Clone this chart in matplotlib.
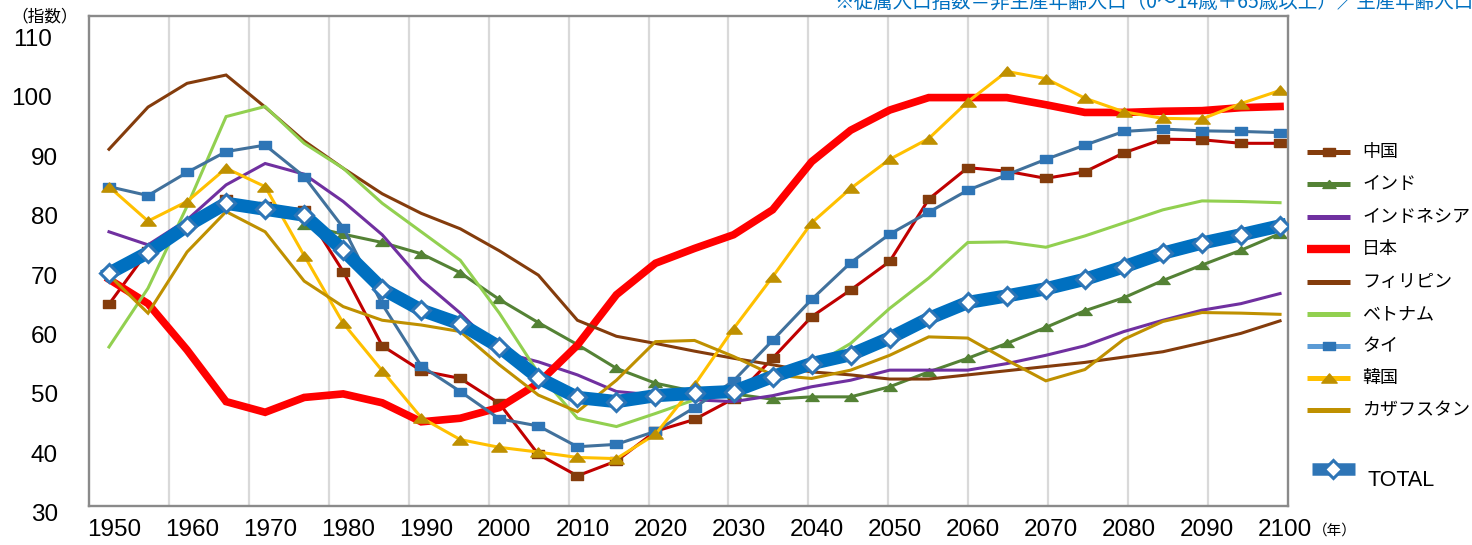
import numpy as np
import matplotlib
matplotlib.use("Agg")
import matplotlib.pyplot as plt
from matplotlib.path import Path
from matplotlib.lines import Line2D
from matplotlib.transforms import blended_transform_factory, offset_copy

nan = np.nan

# ---- data: dependency ratio index, every 5 years 1950-2100 ----
years = list(range(1950, 2101, 5))

china = [65.5, 74.5, 78.7, 83.3, 82.0, 81.4, 71.0, 58.5, 54.3, 53.0, 48.8, 40.2, 36.6, 39.1, 44.1, 46.1,
         49.6, 56.4, 63.4, 67.9, 72.7, 83.2, 88.5, 87.9, 86.7, 87.8, 91.0, 93.3, 93.2, 92.6, 92.6]
india = [nan, nan, nan, nan, nan, 78.8, 77.3, 75.9, 74.0, 70.8, 66.3, 62.4, 58.7, 54.7, 52.2, 50.8,
         50.4, 49.5, 49.9, 49.9, 51.6, 54.1, 56.4, 58.9, 61.6, 64.4, 66.6, 69.5, 72.1, 74.6, 77.4]
indonesia = [77.7, 75.5, 79.7, 85.6, 89.2, 87.4, 82.8, 77.2, 69.6, 64.0, 57.5, 55.8, 53.6, 50.8, 50.2, 49.4,
             49.1, 50.1, 51.6, 52.7, 54.4, 54.4, 54.4, 55.5, 56.9, 58.5, 60.9, 62.8, 64.5, 65.6, 67.3]
japan = [69.7, 65.6, 57.8, 49.1, 47.3, 49.8, 50.4, 48.9, 45.7, 46.3, 48.1, 52.2, 58.6, 67.1, 72.4, 74.9,
         77.2, 81.4, 89.5, 94.8, 98.2, 100.3, 100.3, 100.3, 99.1, 97.8, 97.8, 98.0, 98.1, 98.6, 98.8]
philippines = [91.6, 98.7, 102.7, 104.1, 98.7, 93.0, 88.4, 84.1, 80.8, 78.2, 74.5, 70.4, 62.8, 60.1, 58.9, 57.6,
               56.4, 55.3, 54.1, 53.6, 52.9, 52.9, 53.6, 54.3, 55.0, 55.7, 56.6, 57.5, 59.0, 60.6, 62.7]
vietnam = [58.3, 68.2, 82.0, 97.1, 98.8, 92.6, 88.4, 82.5, 77.7, 72.9, 64.0, 53.9, 46.3, 44.9, 47.1, 49.4,
           51.1, 52.5, 55.0, 58.9, 64.8, 69.9, 75.9, 76.0, 75.1, 77.0, 79.2, 81.4, 82.9, 82.8, 82.6]
thailand = [85.3, 83.8, 87.7, 91.2, 92.3, 87.0, 78.4, 65.5, 55.1, 50.8, 46.2, 45.0, 41.5, 41.9, 44.1, 48.1,
            52.6, 59.4, 66.3, 72.5, 77.3, 81.0, 84.7, 87.3, 89.9, 92.3, 94.6, 95.0, 94.7, 94.6, 94.4]
korea = [85.3, 79.5, 82.8, 88.4, 85.3, 73.7, 62.3, 54.3, 46.4, 42.7, 41.4, 40.6, 39.7, 39.5, 43.6, 51.9,
         61.4, 70.1, 79.2, 85.0, 89.9, 93.4, 99.6, 104.7, 103.5, 100.2, 97.9, 96.8, 96.7, 99.3, 101.5]
kazakhstan = [70.4, 64.0, 74.3, 81.1, 77.7, 69.4, 65.1, 62.8, 62.0, 60.9, 55.3, 50.2, 47.4, 52.7, 59.2, 59.4,
              56.7, 53.6, 53.0, 54.4, 56.9, 60.0, 59.8, 56.1, 52.6, 54.5, 59.6, 62.6, 64.1, 64.0, 63.8]
total = [70.7, 74.2, 78.7, 82.5, 81.5, 80.5, 74.6, 68.1, 64.5, 62.2, 58.3, 53.1, 49.8, 49.1, 50.1, 50.5,
         50.8, 53.3, 55.5, 57.0, 59.8, 63.1, 65.8, 66.9, 68.1, 69.7, 71.8, 74.1, 75.8, 77.2, 78.7]

series_names = ["中国", "インド", "インドネシア", "日本", "フィリピン", "ベトナム", "タイ", "韓国", "カザフスタン"]
series_values = [china, india, indonesia, japan, philippines, vietnam, thailand, korea, kazakhstan]
y_tick_values = [30, 40, 50, 60, 70, 80, 90, 100, 110]
x_tick_years = list(range(1950, 2101, 10))
note_text = "※従属人口指数＝非生産年齢人口（0～14歳＋65歳以上）／生産年齢人口"

# ---- marker shapes (flattened, as in spreadsheet charts) ----
rect_marker = Path([(-1, -0.7), (1, -0.7), (1, 0.7), (-1, 0.7), (-1, -0.7)],
                   [Path.MOVETO, Path.LINETO, Path.LINETO, Path.LINETO, Path.CLOSEPOLY])
tri_marker = Path([(-1, -0.6), (1, -0.6), (0, 0.6), (-1, -0.6)],
                  [Path.MOVETO, Path.LINETO, Path.LINETO, Path.CLOSEPOLY])

styles = [
    dict(color="#C00000", lw=2.2, marker=rect_marker, ms=9.2, mfc="#843C0C", mec="#843C0C"),
    dict(color="#548235", lw=2.2, marker=tri_marker, ms=9.5, mfc="#548235", mec="#548235"),
    dict(color="#7030A0", lw=2.2),
    dict(color="#FF0000", lw=5.5),
    dict(color="#843C0C", lw=2.2),
    dict(color="#92D050", lw=2.2),
    dict(color="#41719C", lw=2.2, marker=rect_marker, ms=9.2, mfc="#2E75B6", mec="#2E75B6"),
    dict(color="#FFC000", lw=2.2, marker=tri_marker, ms=11, mfc="#BF9000", mec="#BF9000"),
    dict(color="#BF9000", lw=2.2),
]
legend_line_colors = ["#843C0C", "#548235", "#7030A0", "#FF0000", "#843C0C",
                      "#92D050", "#5B9BD5", "#FFC000", "#BF9000"]

W, H = 1472, 545
fig = plt.figure(figsize=(W / 100, H / 100), dpi=100)


def fx(px):
    return px / W


def fy(py):
    return 1 - py / H


ax = fig.add_axes([fx(89), fy(506), fx(1288) - fx(89), fy(16) - fy(506)])

# axis range
x0, x1 = 1947.44, 2101.02
ax.set_xlim(x0, x1)
ax.set_ylim(31.52, 114.04)
ax.set_xticks([])
ax.set_yticks([])
for sp in ax.spines.values():
    sp.set_color("#8A8A8A")
    sp.set_linewidth(1.7)
for g in np.linspace(x0, x1, 16)[1:-1]:
    ax.axvline(g, color="#D9D9D9", lw=1.6, zorder=0)

# country series
for vals, st in zip(series_values, styles):
    ax.plot(years, vals, solid_joinstyle="miter", zorder=2, **st)
# aggregate series on top
ax.plot(years, total, color="#0070C0", lw=9.5, marker="D", ms=9.5, mfc="white",
        mec="#2E75B6", mew=2.2, zorder=3, solid_joinstyle="miter")

num_font = "Liberation Sans"
jp_font = ["Noto Sans CJK JP", "DejaVu Sans"]

# y labels
ytrans = blended_transform_factory(fig.transFigure, ax.transData)
for v in y_tick_values:
    xr = 52 if v >= 100 else 58
    fig.text(fx(xr), v, str(v), transform=ytrans, ha="right", va="center",
             fontsize=17.5, family=num_font, color="black")

# x labels
xtrans = offset_copy(blended_transform_factory(ax.transData, fig.transFigure), fig=fig,
                     x=5, y=0, units="dots")
for yr in x_tick_years:
    fig.text(yr, fy(530), str(yr), transform=xtrans, ha="center", va="center",
             fontsize=17.5, family=num_font, color="black")

fig.text(fx(11), fy(17), "（指数）", ha="left", va="center", fontsize=12, family=jp_font)
fig.text(fx(1335), fy(531), "（年）", ha="center", va="center", fontsize=10.5, family=jp_font)
fig.text(fx(834), fy(2.5), note_text, ha="left", va="center", fontsize=14,
         family=jp_font, color="#0070C0")

# legend drawn in figure pixels
leg_y = [151.7, 184, 217, 249, 281.7, 314, 346, 378, 410]
lx0, lx1 = 1307, 1350
for name, st, lc, y in zip(series_names, styles, legend_line_colors, leg_y):
    lw = 6 if st["lw"] > 4 else 3.6
    fig.add_artist(Line2D([fx(lx0), fx(lx1)], [fy(y), fy(y)], transform=fig.transFigure,
                          color=lc, lw=lw, solid_capstyle="butt"))
    if "marker" in st:
        fig.add_artist(Line2D([fx((lx0 + lx1) / 2)], [fy(y)], transform=fig.transFigure,
                              marker=st["marker"], ms=st["ms"], mfc=st["mfc"], mec=st["mec"],
                              linestyle="none"))
    fig.text(fx(1362), fy(y), name, ha="left", va="center", fontsize=13, family=jp_font)

fig.add_artist(Line2D([fx(1312), fx(1355)], [fy(469), fy(469)], transform=fig.transFigure,
                      color="#2E75B6", lw=9, solid_capstyle="butt"))
fig.add_artist(Line2D([fx(1333)], [fy(469)], transform=fig.transFigure, marker="D", ms=9.5,
                      mfc="white", mec="#2E75B6", mew=2.2, linestyle="none"))
fig.text(fx(1367), fy(480), "TOTAL", ha="left", va="center", fontsize=15.5, family=num_font)

fig.savefig("out.png", dpi=100)
